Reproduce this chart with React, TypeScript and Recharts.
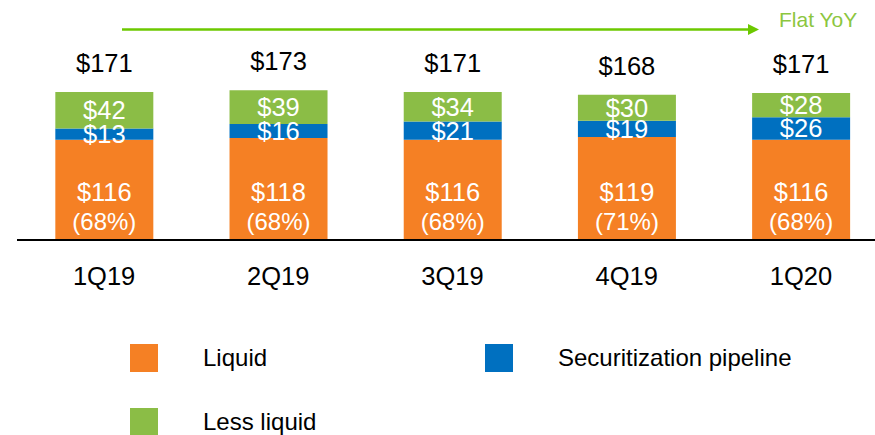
import { Bar, BarChart, LabelList, Legend, XAxis, YAxis } from "recharts";

const quarters = ["1Q19", "2Q19", "3Q19", "4Q19", "1Q20"];
const liquid = [116, 118, 116, 119, 116];
const pipeline = [13, 16, 21, 19, 26];
const lessLiquid = [42, 39, 34, 30, 28];
const totals = [171, 173, 171, 168, 171];
const liquidPct = [68, 68, 68, 71, 68];

const COLORS = {
  liquid: "#F58024",
  pipeline: "#0070C0",
  lessLiquid: "#8BBD46",
  arrow: "#6CC800",
  note: "#8CC63F",
};

const FONT = "'Liberation Sans', Arial, sans-serif";
const BIG = 25.5;

const data = quarters.map((quarter, i) => ({
  quarter,
  liquid: liquid[i],
  pipeline: pipeline[i],
  lessLiquid: lessLiquid[i],
  total: totals[i],
  liquidPct: liquidPct[i],
}));

const legendItems = [
  { label: "Liquid", color: COLORS.liquid },
  { label: "Securitization pipeline", color: COLORS.pipeline },
  { label: "Less liquid", color: COLORS.lessLiquid },
];

// amount line sits a fixed distance above the bar bottom, share line below it
function LiquidAmount(props: any) {
  const { x, y, width, height, value } = props;
  return (
    <text x={x + width / 2} y={y + height - 39} textAnchor="middle" fill="#fff" fontSize={BIG}>
      ${value}
    </text>
  );
}

function LiquidShare(props: any) {
  const { x, y, width, height, value } = props;
  return (
    <text x={x + width / 2} y={y + height - 10} textAnchor="middle" fill="#fff" fontSize={24}>
      ({value}%)
    </text>
  );
}

function LegendBlock() {
  return (
    <div
      style={{
        display: "grid",
        gridTemplateColumns: "355px 355px",
        rowGap: 36,
        fontFamily: FONT,
        fontSize: 24,
        color: "#000",
      }}
    >
      {legendItems.map((item) => (
        <div key={item.label} style={{ display: "flex", alignItems: "center", height: 28 }}>
          <span style={{ width: 28, height: 28, background: item.color, display: "inline-block" }} />
          <span style={{ marginLeft: 45, lineHeight: "28px" }}>{item.label}</span>
        </div>
      ))}
    </div>
  );
}

export default function App() {
  return (
    <div
      style={{
        position: "absolute",
        left: 0,
        top: 0,
        width: 875,
        height: 435,
        overflow: "hidden",
        background: "#fff",
        fontFamily: FONT,
      }}
    >
      <BarChart
        width={890}
        height={435}
        data={data}
        margin={{ top: 67, right: 2, bottom: 165, left: 17 }}
        barCategoryGap="22%"
      >
        <YAxis hide domain={[0, 200]} />
        <XAxis
          dataKey="quarter"
          tickLine={false}
          tickMargin={21}
          axisLine={{ stroke: "#000", strokeWidth: 2 }}
          tick={{ fontSize: BIG, fill: "#000" }}
        />
        <Legend
          verticalAlign="middle"
          align="center"
          layout="horizontal"
          wrapperStyle={{ top: 344, left: 130, width: 720 }}
          content={() => <LegendBlock />}
        />
        <Bar dataKey="liquid" stackId="a" fill={COLORS.liquid} isAnimationActive={false}>
          <LabelList dataKey="liquid" content={<LiquidAmount />} />
          <LabelList dataKey="liquidPct" content={<LiquidShare />} />
        </Bar>
        <Bar dataKey="pipeline" stackId="a" fill={COLORS.pipeline} isAnimationActive={false}>
          <LabelList
            dataKey="pipeline"
            position="center"
            fill="#fff"
            fontSize={BIG}
            formatter={(v: any) => `$${v}`}
          />
        </Bar>
        <Bar dataKey="lessLiquid" stackId="a" fill={COLORS.lessLiquid} isAnimationActive={false}>
          <LabelList
            dataKey="lessLiquid"
            position="center"
            fill="#fff"
            fontSize={BIG}
            formatter={(v: any) => `$${v}`}
          />
          <LabelList
            dataKey="total"
            position="top"
            offset={20}
            fill="#000"
            fontSize={BIG}
            formatter={(v: any) => `$${v}`}
          />
        </Bar>
      </BarChart>
      <svg
        width={875}
        height={60}
        style={{ position: "absolute", left: 0, top: 0, pointerEvents: "none" }}
      >
        <line x1={122} y1={29.5} x2={749} y2={29.5} stroke={COLORS.arrow} strokeWidth={2.5} />
        <polygon points="748,24 759,29.5 748,35" fill={COLORS.arrow} />
        <text x={779} y={27} fontSize={21} fill={COLORS.note}>
          Flat YoY
        </text>
      </svg>
    </div>
  );
}
